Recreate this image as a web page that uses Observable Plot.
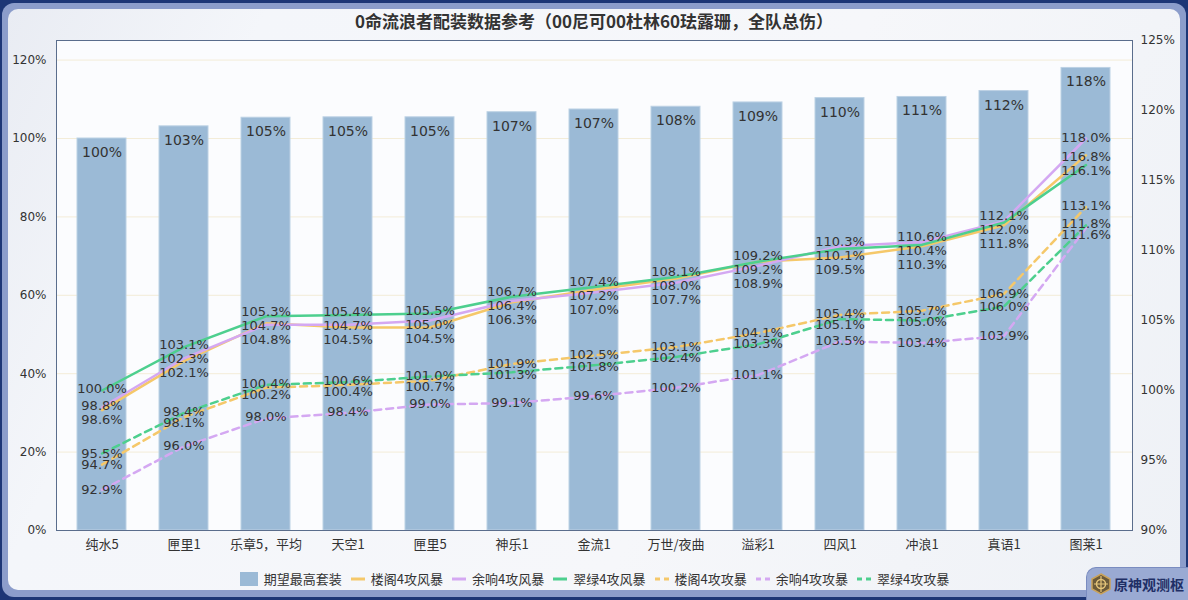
<!DOCTYPE html>
<html>
<head>
<meta charset="utf-8">
<script src="https://cdn.jsdelivr.net/npm/d3@7"></script>
<script src="https://cdn.jsdelivr.net/npm/@observablehq/plot@0.6"></script>
<style>
  html, body { margin: 0; padding: 0; }
  body { width: 1188px; height: 600px; background: #1d3676; position: relative; overflow: hidden; font-family: "Noto Sans CJK SC", "DejaVu Sans", sans-serif; }
  #outer { position: absolute; left: 2px; top: 3px; width: 1184px; height: 594px; background: #8c9dcb; border-radius: 12px; }
  #panel { position: absolute; left: 8px; top: 9px; width: 1172px; height: 581px; border-radius: 10px;
           background: linear-gradient(115deg, #e9ecf3 0%, #f4f6fa 18%, #f6f7fa 60%, #eef1f6 100%); }
  #title { position: absolute; left: 0; top: 8px; width: 1188px; text-align: center; font-size: 17px; font-weight: bold; color: #333; }
  #chart { position: absolute; left: 0; top: 0; }
  #legend { position: absolute; left: 0; top: 569px; width: 1188px; display: flex; justify-content: center; align-items: center; font-size: 13px; color: #333; }
  #legend .item { display: flex; align-items: center; margin: 0 4px; }
  #legend svg { margin-right: 5px; }
  #logo { position: absolute; left: 1086px; top: 567px; width: 102px; height: 33px; background: #9aaad3; border-top-left-radius: 10px;
          border-top: 1px solid #7a8cc0; border-left: 1px solid #7a8cc0; display: flex; align-items: center; padding-left: 4px; box-sizing: border-box; }
  #logo span { color: #1f2f66; font-weight: bold; font-size: 14px; margin-left: 3px; }
</style>
</head>
<body>
<div id="outer"></div>
<div id="panel"></div>
<div id="title">0命流浪者配装数据参考（00尼可00杜林60珐露珊，全队总伤）</div>
<div id="chart"></div>
<div id="legend"></div>
<div id="logo">
  <svg width="20" height="22" viewBox="0 0 20 22">
    <polygon points="10,1 19,6 19,16 10,21 1,16 1,6" fill="#6b5a3a" stroke="#caa35a" stroke-width="1.5"/>
    <circle cx="10" cy="11" r="4.5" fill="none" stroke="#e6c57a" stroke-width="1.5"/>
    <path d="M10 3 L10 19 M3 11 L17 11" stroke="#e6c57a" stroke-width="1.2"/>
  </svg>
  <span>原神观测枢</span>
</div>
<script>
// ---------- data ----------
const categories = ["纯水5", "匣里1", "乐章5，平均", "天空1", "匣里5", "神乐1", "金流1", "万世/夜曲", "溢彩1", "四风1", "冲浪1", "真语1", "图莱1"];
const bestSet      = [100.0, 103.1, 105.3, 105.4, 105.4, 106.7, 107.4, 108.1, 109.2, 110.3, 110.6, 112.1, 118.0];
const lougeStorm   = [98.6, 102.1, 104.8, 104.5, 104.5, 106.3, 107.2, 108.0, 109.2, 109.5, 110.3, 111.8, 116.8];
const yuxiangStorm = [98.8, 102.3, 104.7, 104.7, 105.0, 106.4, 107.0, 107.7, 108.9, 110.3, 110.6, 112.1, 118.0];
const cuilvStorm   = [100.0, 103.1, 105.3, 105.4, 105.5, 106.7, 107.4, 108.1, 109.2, 110.1, 110.4, 112.0, 116.1];
const lougeAtk     = [94.7, 98.1, 100.2, 100.4, 100.7, 101.9, 102.5, 103.1, 104.1, 105.4, 105.7, 106.9, 113.1];
const yuxiangAtk   = [92.9, 96.0, 98.0, 98.4, 99.0, 99.1, 99.6, 100.2, 101.1, 103.5, 103.4, 103.9, 111.6];
const cuilvAtk     = [95.5, 98.4, 100.4, 100.6, 101.0, 101.3, 101.8, 102.4, 103.3, 105.1, 105.0, 106.0, 111.8];
const leftTicks  = [0, 20, 40, 60, 80, 100, 120];
const rightTicks = [90, 95, 100, 105, 110, 115, 120, 125];
const barName = "期望最高套装";

// ---------- styling ----------
const YELLOW = "#f5c86a", PURPLE = "#d4a8f2", GREEN = "#4dcf8e", BAR = "#9bbad6";
const series = [
  {name: "楼阁4攻风暴", values: lougeStorm,   color: YELLOW, dash: null,  group: "solid", labelShift: -0.15},
  {name: "余响4攻风暴", values: yuxiangStorm, color: PURPLE, dash: null,  group: "solid", labelShift: 0},
  {name: "翠绿4攻风暴", values: cuilvStorm,   color: GREEN,  dash: null,  group: "solid", labelShift: 0},
  {name: "楼阁4攻攻暴", values: lougeAtk,     color: YELLOW, dash: "7,5", group: "dash",  labelShift: 0},
  {name: "余响4攻攻暴", values: yuxiangAtk,   color: PURPLE, dash: "7,5", group: "dash",  labelShift: 0},
  {name: "翠绿4攻攻暴", values: cuilvAtk,     color: GREEN,  dash: "7,5", group: "dash",  labelShift: 0}
];

// left axis domain [0,125], right axis [90,125]
const LMAX = 125, RMIN = 90, RMAX = 125;
const toLeft = v => (v - RMIN) * LMAX / (RMAX - RMIN);
const fromLeft = d => d * (RMAX - RMIN) / LMAX + RMIN;

const bars = categories.map((c, i) => ({cat: c, v: bestSet[i]}));

// label layout: push overlapping labels down, then partially rebalance upward (right-axis % units)
const GAPS = {solid: 1.0, dash: 0.8};
function dodge(items, gap) {
  const sorted = items.slice().sort((a, b) => b.d - a.d);
  let prev = Infinity;
  sorted.forEach(x => { x.ly = Math.min(x.d, prev - gap); prev = x.ly; });
  const avg = d3.mean(sorted, x => x.d - x.ly);
  sorted.forEach(x => { x.ly += avg / 2; });
}
const labels = [];
categories.forEach((c, i) => {
  for (const g of ["solid", "dash"]) {
    const items = series.filter(s => s.group === g).map(s => ({cat: c, v: s.values[i], d: s.values[i] + s.labelShift}));
    dodge(items, GAPS[g]);
    labels.push(...items);
  }
});

const lineMarks = series.map(s => Plot.line(categories.map((c, i) => ({cat: c, v: s.values[i]})), {
  x: "cat", y: d => toLeft(d.v), stroke: s.color, strokeWidth: 2.5,
  strokeDasharray: s.dash || undefined, curve: "linear"
}));

const chart = Plot.plot({
  width: 1188, height: 560,
  marginLeft: 56, marginRight: 56, marginTop: 40, marginBottom: 30,
  style: {background: "transparent", fontFamily: "DejaVu Sans, sans-serif", color: "#333"},
  x: {domain: categories, paddingInner: 0.4, paddingOuter: 0.2, axis: null, label: null},
  y: {domain: [0, LMAX], axis: null, label: null},
  marks: [
    Plot.frame({fill: "#fbfcfe", stroke: null}),
    Plot.ruleY(leftTicks.slice(1), {stroke: "#f3ecd8", strokeWidth: 1}),
    Plot.barY(bars, {x: "cat", y: "v", fill: BAR, stroke: "#bcd1e4", strokeWidth: 1}),
    ...lineMarks,
    Plot.text(bars, {x: "cat", y: "v", text: d => Math.round(d.v) + "%", dy: 14, fontSize: 14, fill: "#333", ariaLabel: "barlabel"}),
    Plot.text(labels, {x: "cat", y: d => toLeft(d.ly), text: d => d.v.toFixed(1) + "%", fontSize: 13, fill: "#333", ariaLabel: "linelabel"}),
    Plot.axisY(leftTicks, {anchor: "left", label: null, tickSize: 0, tickPadding: 10, fontSize: 12, tickFormat: d => d + "%", fill: "#333"}),
    Plot.axisY(rightTicks.map(toLeft), {anchor: "right", label: null, tickSize: 0, tickPadding: 8, fontSize: 12, tickFormat: d => Math.round(fromLeft(d)) + "%", fill: "#333"}),
    Plot.axisX({label: null, tickSize: 0, tickPadding: 9, fontSize: 13, fontFamily: "Noto Sans CJK SC, sans-serif", fill: "#333"}),
    Plot.frame({stroke: "#5a6d8c", strokeWidth: 1})
  ]
});
document.getElementById("chart").appendChild(chart);

// translucent boxes behind value labels
function addBoxes(selector, padX, padY) {
  chart.querySelectorAll(selector).forEach(t => {
    const b = t.getBBox();
    const r = document.createElementNS("http://www.w3.org/2000/svg", "rect");
    r.setAttribute("x", b.x - padX); r.setAttribute("y", b.y - padY);
    r.setAttribute("width", b.width + 2 * padX); r.setAttribute("height", b.height + 2 * padY);
    r.setAttribute("fill", "rgba(255,255,255,0.16)");
    if (t.getAttribute("transform")) r.setAttribute("transform", t.getAttribute("transform"));
    t.parentNode.insertBefore(r, t);
  });
}
addBoxes('g[aria-label="barlabel"] text', 6, 1);
addBoxes('g[aria-label="linelabel"] text', 2, 0);

// legend
const legend = document.getElementById("legend");
function addItem(svg, name) {
  const d = document.createElement("div");
  d.className = "item";
  d.innerHTML = svg + "<span>" + name + "</span>";
  legend.appendChild(d);
}
addItem(`<svg width="20" height="14"><rect x="1" y="0" width="18" height="14" fill="${BAR}"/></svg>`, barName);
series.forEach(s => {
  const line = s.dash
    ? `<line x1="1" y1="7" x2="15" y2="7" stroke="${s.color}" stroke-width="3" stroke-dasharray="5,4"/>`
    : `<line x1="1" y1="7" x2="15" y2="7" stroke="${s.color}" stroke-width="3"/>`;
  addItem(`<svg width="16" height="14">${line}</svg>`, s.name);
});
</script>
</body>
</html>
